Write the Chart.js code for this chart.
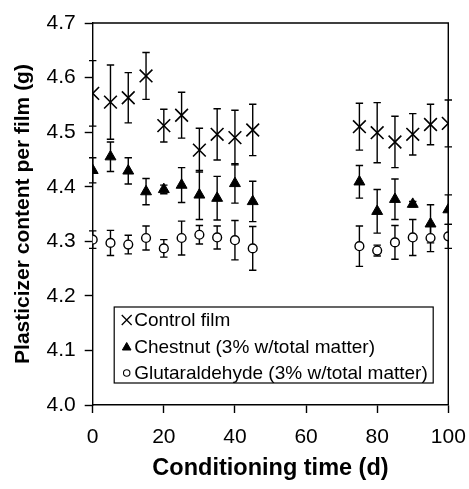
<!DOCTYPE html>
<html>
<head>
<meta charset="utf-8">
<script src="https://cdn.jsdelivr.net/npm/chart.js@4.4.1/dist/chart.umd.min.js"></script>
<style>
html,body{margin:0;padding:0;background:#fff;}
#wrap{width:469px;height:489px;position:relative;}
</style>
</head>
<body>
<div id="wrap"><canvas id="c" width="469" height="489"></canvas></div>
<script>
const days = [0,5,10,15,20,25,30,35,40,45,75,80,85,90,95,100];
const controlFilm = [4.571,4.555,4.563,4.603,4.512,4.531,4.467,4.496,4.490,4.504,4.510,4.499,4.482,4.496,4.514,4.516];
const controlErr  = [0.060,0.068,0.046,0.043,0.030,0.042,0.040,0.047,0.050,0.047,0.043,0.055,0.047,0.038,0.037,0.043];
const chestnut    = [4.430,4.455,4.429,4.391,4.395,4.403,4.385,4.379,4.406,4.373,4.409,4.355,4.377,4.368,4.332,4.358];
const chestnutErr = [0.023,0.027,0.024,0.024,0.008,0.032,0.045,0.040,0.036,0.037,0.030,0.040,0.037,0.005,0.035,0.027];
const glutaraldehyde = [4.303,4.297,4.294,4.306,4.287,4.306,4.312,4.307,4.302,4.287,4.291,4.283,4.298,4.307,4.306,4.309];
const glutErr     = [0.016,0.023,0.017,0.022,0.016,0.031,0.017,0.021,0.036,0.040,0.037,0.010,0.031,0.033,0.025,0.022];
const seriesNames = ["Control film","Chestnut (3% w/total matter)","Glutaraldehyde (3% w/total matter)"];
const xTicks = [0,20,40,60,80,100];
const yTicks = [4.0,4.1,4.2,4.3,4.4,4.5,4.6,4.7];

const FONT = "'Liberation Sans', Arial, sans-serif";
function pts(vals){ return days.map((d,i)=>({x:d,y:vals[i]})); }

const errorBars = {
  id:'errorBars',
  beforeDatasetsDraw(chart){
    const ctx = chart.ctx, xs = chart.scales.x, ys = chart.scales.y;
    ctx.save();
    ctx.strokeStyle = '#000';
    ctx.lineWidth = 1.4;
    chart.data.datasets.forEach(ds=>{
      ds.data.forEach((p,i)=>{
        const e = ds.err[i];
        const px = xs.getPixelForValue(p.x);
        const top = ys.getPixelForValue(p.y + e);
        const bot = ys.getPixelForValue(p.y - e);
        ctx.beginPath();
        ctx.moveTo(px, top); ctx.lineTo(px, bot);
        ctx.moveTo(px-3.7, top); ctx.lineTo(px+3.7, top);
        ctx.moveTo(px-3.7, bot); ctx.lineTo(px+3.7, bot);
        ctx.stroke();
      });
    });
    ctx.restore();
  }
};

const frame = {
  id:'frame',
  afterDatasetsDraw(chart){
    const {ctx, chartArea:a} = chart;
    ctx.save();
    ctx.strokeStyle='#000'; ctx.lineWidth=1.4;
    ctx.beginPath();
    ctx.moveTo(a.left, a.top); ctx.lineTo(a.right, a.top); ctx.lineTo(a.right, a.bottom);
    ctx.stroke();
    ctx.restore();
  }
};

const insideLegend = {
  id:'insideLegend',
  afterDraw(chart){
    const {ctx, chartArea:a} = chart;
    const bx = a.left + 21.5, by = a.top + 284, bw = 319, bh = 76;
    ctx.save();
    ctx.fillStyle='#fff';
    ctx.fillRect(bx, by, bw, bh);
    ctx.strokeStyle='#000'; ctx.lineWidth=1.2;
    ctx.strokeRect(bx, by, bw, bh);
    const styles = [
      {pointStyle:'crossRot', radius:7, fill:'#000', lw:1.3},
      {pointStyle:'triangle', radius:5, fill:'#000', lw:1},
      {pointStyle:'circle', radius:3.2, fill:'#fff', lw:1.1}
    ];
    ctx.font = "19px " + FONT;
    ctx.textBaseline='middle';
    ctx.fillStyle='#000';
    seriesNames.forEach((n,i)=>{
      const cy = by + 13 + i*26.5;
      const s = styles[i];
      ctx.fillStyle = s.fill; ctx.strokeStyle='#000'; ctx.lineWidth = s.lw;
      Chart.helpers.drawPoint(ctx, {pointStyle:s.pointStyle, radius:s.radius, rotation:0, borderWidth:s.lw}, bx+12.5, cy + (i===1?1:0));
      ctx.fillStyle='#000';
      ctx.fillText(n, bx+20, cy+1);
    });
    ctx.restore();
  }
};

new Chart(document.getElementById('c'), {
  type:'scatter',
  data:{
    datasets:[
      {label:seriesNames[0], data:pts(controlFilm), err:controlErr, pointStyle:'crossRot', pointRadius:9, borderColor:'#000', backgroundColor:'#000', borderWidth:1.6, showLine:false},
      {label:seriesNames[1], data:pts(chestnut), err:chestnutErr, pointStyle:'triangle', pointRadius:6.3, borderColor:'#000', backgroundColor:'#000', borderWidth:1, showLine:false},
      {label:seriesNames[2], data:pts(glutaraldehyde), err:glutErr, pointStyle:'circle', pointRadius:4.4, borderColor:'#000', backgroundColor:'#fff', borderWidth:1.4, showLine:false}
    ]
  },
  options:{
    responsive:false,
    animation:false,
    devicePixelRatio:1,
    layout:{padding:{top:23, right:20.7, left:0, bottom:0}},
    plugins:{legend:{display:false}, tooltip:{enabled:false}},
    elements:{point:{hoverRadius:0}},
    scales:{
      x:{
        type:'linear', min:0, max:100,
        afterFit(s){ s.height = 84; s.paddingLeft = 0; s.paddingRight = 0; },
        afterBuildTicks(s){ s.ticks = xTicks.map(v=>({value:v})); },
        ticks:{color:'#000', font:{family:FONT, size:21}, padding:12},
        grid:{drawOnChartArea:false, drawTicks:true, tickLength:8, tickColor:'#000', tickWidth:1.4},
        border:{display:true, color:'#000', width:1.4},
        title:{display:true, text:'Conditioning time (d)', color:'#000', font:{family:FONT, size:23.5, weight:'bold'}, padding:{top:0,bottom:6}}
      },
      y:{
        type:'linear', min:4.0, max:4.7,
        afterFit(s){ s.width = 92.7; s.paddingTop = 0; s.paddingBottom = 0; },
        afterBuildTicks(s){ s.ticks = yTicks.map(v=>({value:v})); },
        ticks:{color:'#000', font:{family:FONT, size:21}, padding:9, callback:v=>Number(v).toFixed(1)},
        grid:{drawOnChartArea:false, drawTicks:true, tickLength:8, tickColor:'#000', tickWidth:1.4},
        border:{display:true, color:'#000', width:1.4},
        title:{display:true, text:'Plasticizer content per film (g)', color:'#000', font:{family:FONT, size:21, weight:'bold'}, padding:{top:10.5,bottom:0}}
      }
    }
  },
  plugins:[errorBars, frame, insideLegend]
});
</script>
</body>
</html>
